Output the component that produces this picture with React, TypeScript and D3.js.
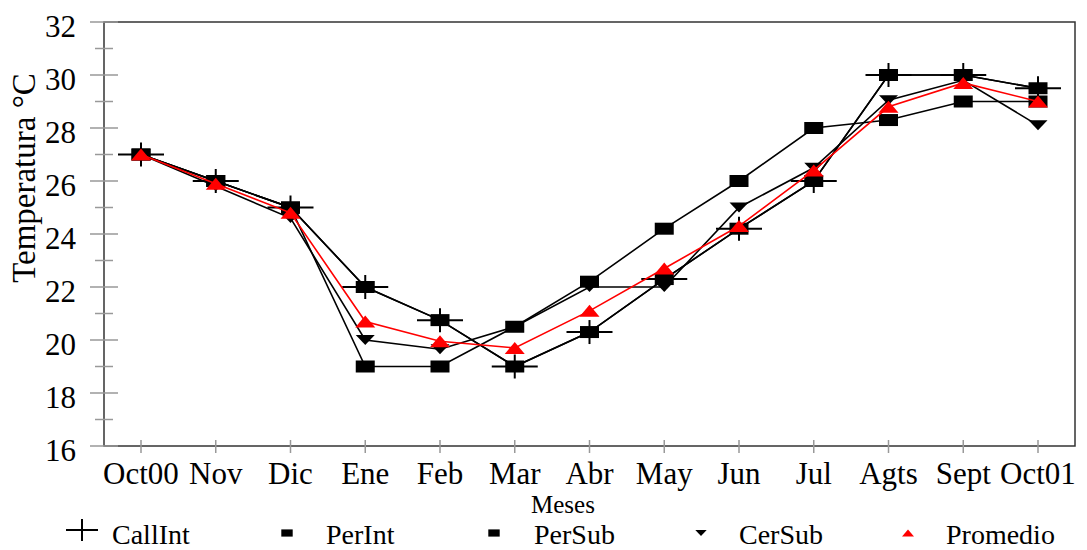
import React from "react";
import * as d3 from "d3";

// Monthly mean temperature by site, Oct 2000 – Oct 2001
const months = ["Oct00", "Nov", "Dic", "Ene", "Feb", "Mar", "Abr", "May", "Jun", "Jul", "Agts", "Sept", "Oct01"];
const callInt = [27, 26, 25, 22, 20.75, 19, 20.3, 22.3, 24.2, 26, 30, 30, 29.5];
const perInt = [27, 26, 25, 22, 20.75, 19, 20.3, 22.3, 24.2, 26, 30, 30, 29.5];
const perSub = [27, 26, 25, 19, 19, 20.5, 22.2, 24.2, 26, 28, 28.3, 29, 29];
const cerSub = [27, 25.8, 24.6, 20, 19.65, 20.5, 22.0, 22.0, 25, 26.5, 29.05, 29.8, 28.1];
const promedio = [27, 25.9, 24.8, 20.7, 19.95, 19.7, 21.1, 22.7, 24.3, 26.4, 28.8, 29.7, 29.0];
const yTicks = [16, 18, 20, 22, 24, 26, 28, 30, 32];
const yMinor = [17, 19, 21, 23, 25, 27, 29, 31];

const W = 1087;
const H = 550;
const FONT = "'Liberation Serif', 'Times New Roman', serif";

type MarkerKind = "cross" | "square" | "down" | "up";

interface Series {
  name: string;
  values: number[];
  marker: MarkerKind;
  color: string;
}

const series: Series[] = [
  { name: "CallInt", values: callInt, marker: "cross", color: "#000" },
  { name: "PerInt", values: perInt, marker: "square", color: "#000" },
  { name: "PerSub", values: perSub, marker: "square", color: "#000" },
  { name: "CerSub", values: cerSub, marker: "down", color: "#000" },
  { name: "Promedio", values: promedio, marker: "up", color: "#ff0000" },
];

function Marker({ kind, x, y, color, scale = 1 }: { kind: MarkerKind; x: number; y: number; color: string; scale?: number }) {
  if (kind === "cross") {
    const hw = 23 * scale;
    const hh = 12 * scale;
    return (
      <g stroke={color} strokeWidth={2}>
        <line x1={x - hw} x2={x + hw} y1={y} y2={y} />
        <line x1={x} x2={x} y1={y - hh} y2={y + hh} />
      </g>
    );
  }
  if (kind === "square") {
    const w = 19 * scale;
    const h = 12 * scale;
    return <rect x={x - w / 2} y={y - h / 2} width={w} height={h} fill={color} />;
  }
  if (kind === "down") {
    const w = 19 * scale;
    const h = 10 * scale;
    return <path d={`M${x - w / 2},${y - h / 2}L${x + w / 2},${y - h / 2}L${x},${y + h / 2}Z`} fill={color} />;
  }
  const w = 20 * scale;
  const h = 12 * scale;
  return <path d={`M${x - w / 2},${y + h / 2}L${x + w / 2},${y + h / 2}L${x},${y - h / 2}Z`} fill={color} />;
}

export default function App() {
  const left = 104;
  const right = 1075;
  const top = 22;
  const bottom = 446;

  const x = d3.scalePoint<string>().domain(months).range([141, 1038]);
  const y = d3.scaleLinear().domain([16, 32]).range([bottom, top]);

  const line = d3
    .line<number>()
    .x((_, i) => x(months[i]) as number)
    .y((v) => y(v));

  const legendItems = [
    { s: series[0], mx: 82, tx: 112 },
    { s: series[1], mx: 287, tx: 326 },
    { s: series[2], mx: 494, tx: 534 },
    { s: series[3], mx: 701, tx: 739 },
    { s: series[4], mx: 908, tx: 946 },
  ];

  return (
    <svg width={W} height={H} style={{ position: "absolute", left: 0, top: 0, background: "#fff" }} fontFamily={FONT}>
      {/* frame */}
      <rect x={left} y={top} width={right - left} height={bottom - top} fill="none" stroke="#333" strokeWidth={1.5} />

      {/* y ticks */}
      {yTicks.map((t) => (
        <g key={"yt" + t}>
          <line x1={90} x2={118} y1={y(t)} y2={y(t)} stroke="#999" strokeWidth={1.5} />
          <text x={76} y={y(t) + 15} textAnchor="end" fontSize={31} fill="#000">
            {t}
          </text>
        </g>
      ))}
      {yMinor.map((t) => (
        <line key={"ym" + t} x1={95} x2={113} y1={y(t)} y2={y(t)} stroke="#999" strokeWidth={1.5} />
      ))}

      {/* x ticks */}
      {months.map((m) => (
        <g key={"xt" + m}>
          <line x1={x(m)} x2={x(m)} y1={bottom - 6} y2={bottom + 7} stroke="#999" strokeWidth={1.5} />
          <text x={x(m)} y={484} textAnchor="middle" fontSize={31} fill="#000">
            {m}
          </text>
        </g>
      ))}

      {/* axis titles */}
      <text x={563} y={513} textAnchor="middle" fontSize={25} fill="#000">
        Meses
      </text>
      <text transform="translate(35,178) rotate(-90)" textAnchor="middle" fontSize={33} fill="#000">
        Temperatura °C
      </text>

      {/* series */}
      {series.map((s) => (
        <g key={s.name}>
          <path d={line(s.values) || ""} fill="none" stroke={s.color} strokeWidth={1.6} />
          {s.values.map((v, i) => (
            <Marker key={i} kind={s.marker} x={x(months[i]) as number} y={y(v)} color={s.color} />
          ))}
        </g>
      ))}

      {/* legend */}
      {legendItems.map(({ s, mx, tx }) => (
        <g key={"lg" + s.name}>
          {s.marker === "cross" ? (
            <g stroke="#000" strokeWidth={2}>
              <line x1={mx - 16} x2={mx + 16} y1={530} y2={530} />
              <line x1={mx} x2={mx} y1={519} y2={541} />
            </g>
          ) : (
            <Marker kind={s.marker} x={mx} y={533} color={s.color} scale={0.6} />
          )}
          <text x={tx} y={544} fontSize={28} fill="#000">
            {s.name}
          </text>
        </g>
      ))}
    </svg>
  );
}
